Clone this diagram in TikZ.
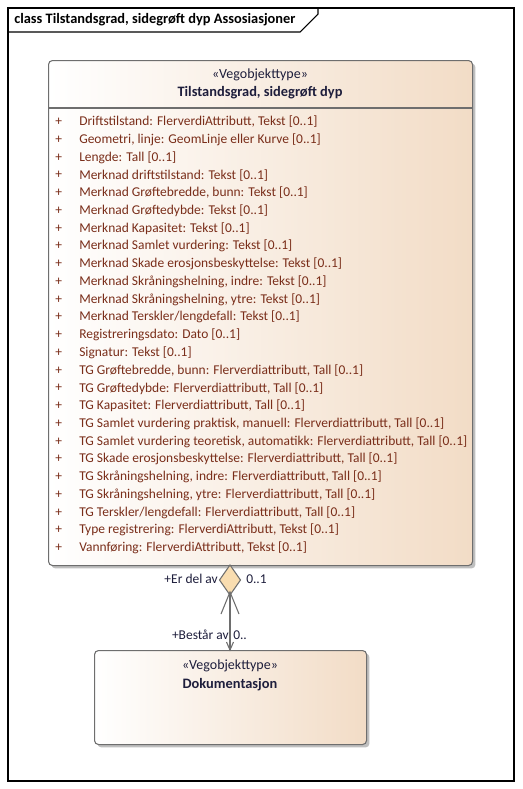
\documentclass[tikz,border=0pt]{standalone}
\usepackage{fontspec}
\setmainfont{Carlito}
\usetikzlibrary{shadows,calc}
\definecolor{attrc}{HTML}{7A2E1A}
\definecolor{headc}{HTML}{1E1E3C}
\definecolor{peach}{HTML}{F2DCC6}
\definecolor{linec}{HTML}{6E6E6E}
\definecolor{diamc}{HTML}{F9DDB0}
\begin{document}
\begin{tikzpicture}[x=0.75pt,y=-0.75pt,
  attr/.style={anchor=west,inner sep=0pt,text=attrc,font=\fontsize{10.1}{12}\selectfont},
  plus/.style={anchor=west,inner sep=0pt,text=attrc,font=\fontsize{10.1}{12}\selectfont},
  head/.style={inner sep=0pt,text=headc,font=\fontsize{10.5}{12}\selectfont},
  headname/.style={inner sep=0pt,text=headc,font=\fontsize{10.8}{12}\selectfont\bfseries},
  rolelbl/.style={inner sep=0pt,text=headc,font=\fontsize{10.1}{12}\selectfont},
  classbox/.style={draw=linec,line width=0.8pt,rounded corners=3pt,left color=white,right color=peach,
     drop shadow={shadow xshift=2.2pt,shadow yshift=-2.2pt,fill=black!25,opacity=1}}]
\useasboundingbox (0,0) rectangle (523,789);
\fill[white] (0,0) rectangle (523,789);
% frame
\draw[black,line width=0.8pt] (8,8) rectangle (514,781);
\draw[black,line width=0.8pt] (8,32) -- (300,32) -- (318,14) -- (318,8);
\node[anchor=west,inner sep=0pt,font=\fontsize{10.8}{12}\selectfont\bfseries] (title) at (14,20) {class Tilstandsgrad, sidegrøft dyp Assosiasjoner};
% main class
\node[classbox,minimum width=424*0.75pt,minimum height=505*0.75pt,anchor=north west] (cls) at (48,60) {};
\draw[linec,line width=0.8pt] (48,108) -- (472,108);
\node[head] (st1) at (260,75) {«Vegobjekttype»};
\node[headname] (nm1) at (260,93) {Tilstandsgrad, sidegrøft dyp};
\foreach \t [count=\i from 0] in {
 {Driftstilstand: FlerverdiAttributt, Tekst [0..1]},
 {Geometri, linje: GeomLinje eller Kurve [0..1]},
 {Lengde: Tall [0..1]},
 {Merknad driftstilstand: Tekst [0..1]},
 {Merknad Grøftebredde, bunn: Tekst [0..1]},
 {Merknad Grøftedybde: Tekst [0..1]},
 {Merknad Kapasitet: Tekst [0..1]},
 {Merknad Samlet vurdering: Tekst [0..1]},
 {Merknad Skade erosjonsbeskyttelse: Tekst [0..1]},
 {Merknad Skråningshelning, indre: Tekst [0..1]},
 {Merknad Skråningshelning, ytre: Tekst [0..1]},
 {Merknad Terskler/lengdefall: Tekst [0..1]},
 {Registreringsdato: Dato [0..1]},
 {Signatur: Tekst [0..1]},
 {TG Grøftebredde, bunn: Flerverdiattributt, Tall [0..1]},
 {TG Grøftedybde: Flerverdiattributt, Tall [0..1]},
 {TG Kapasitet: Flerverdiattributt, Tall [0..1]},
 {TG Samlet vurdering praktisk, manuell: Flerverdiattributt, Tall [0..1]},
 {TG Samlet vurdering teoretisk, automatikk: Flerverdiattributt, Tall [0..1]},
 {TG Skade erosjonsbeskyttelse: Flerverdiattributt, Tall [0..1]},
 {TG Skråningshelning, indre: Flerverdiattributt, Tall [0..1]},
 {TG Skråningshelning, ytre: Flerverdiattributt, Tall [0..1]},
 {TG Terskler/lengdefall: Flerverdiattributt, Tall [0..1]},
 {Type registrering: FlerverdiAttributt, Tekst [0..1]},
 {Vannføring: FlerverdiAttributt, Tekst [0..1]}} {
  \node[plus] (p\i) at (55,{122+17.75*\i}) {+};
  \node[attr] (a\i) at (79,{122+17.75*\i}) {\t};
}
% second class
\node[classbox,minimum width=272*0.75pt,minimum height=94*0.75pt,anchor=north west] (doc) at (94,650) {};
\node[head] (st2) at (230,666) {«Vegobjekttype»};
\node[headname] (nm2) at (230,685) {Dokumentasjon};
% association
\coordinate (dtop) at (230,565);
\coordinate (dbot) at (230,595);
\coordinate (dend) at (230,650);
\draw[linec,line width=0.8pt,fill=diamc] (dtop) -- (240.5,580) -- (dbot) -- (219.5,580) -- cycle;
\draw[linec,line width=0.8pt] (dbot) -- (dend);
\draw[linec,line width=0.8pt] (221,614) -- (230,592) -- (239,614);
\draw[linec,line width=0.8pt] (226.5,642) -- (230,650) -- (233.5,642);
\node[rolelbl,anchor=east] (r1) at (218,579) {+Er del av};
\node[rolelbl,anchor=west] (m1) at (246,579) {0..1};
\node[rolelbl,anchor=east] (r2) at (229,635) {+Består av};
\node[rolelbl,anchor=west] (m2) at (233,635) {0..};
\end{tikzpicture}
\end{document}
